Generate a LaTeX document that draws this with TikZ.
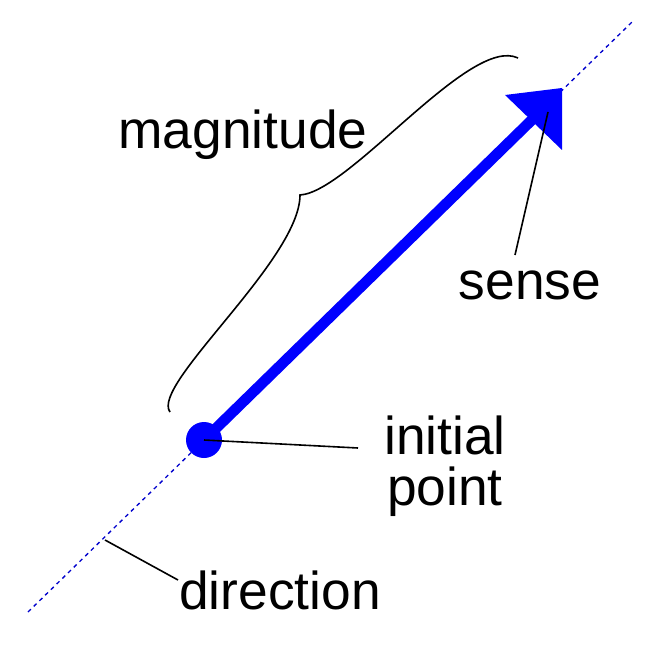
\documentclass[tikz,border=0pt]{standalone}
\usepackage{fontspec}
\setmainfont{Liberation Sans}
\begin{document}
\begin{tikzpicture}[x=0.75pt,y=-0.75pt,
  lbl/.style={font=\fontsize{40}{44}\selectfont, inner sep=0pt, align=center},
  thin/.style={line width=1.2pt}]
\useasboundingbox (0,0) rectangle (649,649);
\coordinate (d0) at (28,612);
\coordinate (d1) at (632,22);
\draw[blue!80!black, dashed, line width=1pt] (d0) -- (d1);
\node[circle, fill=blue, minimum size=27pt, inner sep=0pt] (init) at (204,440) {};
\coordinate (shaftEnd) at (540,112);
\draw[blue, line width=8pt] (init.center) -- (shaftEnd);
\coordinate (h1) at (505,95);
\coordinate (h2) at (562,88);
\coordinate (h3) at (562,150);
\fill[blue] (h1) -- (h2) -- (h3) -- cycle;
\coordinate (b0) at (170,412);
\coordinate (bm) at (300,195);
\coordinate (b1) at (518,58);
\draw[thin] (b0) .. controls (150,385) and (300,260) .. (bm) .. controls (350,192) and (470,35) .. (b1);
\node[lbl] (mag) at (243,135) {magnitude};
\node[lbl] (sense) at (530,285) {sense};
\coordinate (sa) at (548,112);
\draw[thin] (515,255) -- (sa);
\node[lbl] (ip) at (445,466) {initial\\[-6pt]point};
\draw[thin] (init.center) -- (358,448);
\node[lbl] (dir) at (280,590) {direction};
\coordinate (dd) at (105,540);
\draw[thin] (dd) -- (178,580);
\end{tikzpicture}
\end{document}
